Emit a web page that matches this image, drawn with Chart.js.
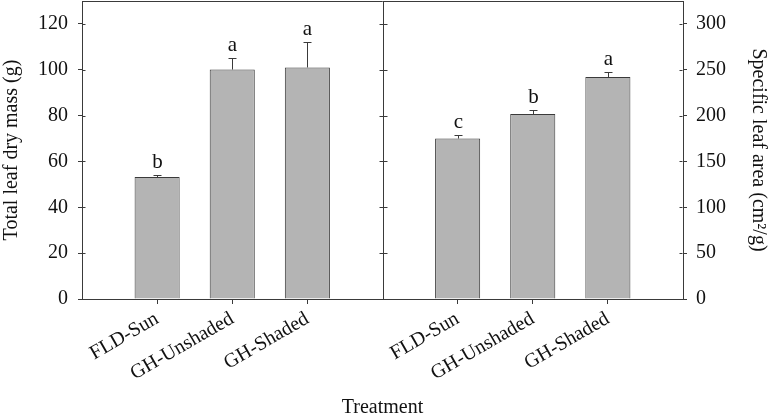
<!DOCTYPE html>
<html lang="en">
<head>
    <meta charset="UTF-8">
    <title>Leaf dry mass and specific leaf area</title>
    <script src="https://cdn.jsdelivr.net/npm/chart.js"></script>
    <style>
        html, body { margin: 0; padding: 0; background: #fff; }
        #wrap { width: 770px; height: 416px; }
    </style>
</head>
<body>
    <div id="wrap"><canvas id="leafChart"></canvas></div>

    <script>
        const categories = ['FLD-Sun', 'GH-Unshaded', 'GH-Shaded'];

        // left panel: total leaf dry mass (g)
        const massMean = [53.2, 100.1, 101.0];
        const massErr = [1.1, 5.1, 11.0];
        const massLetters = ['b', 'a', 'a'];
        const massTicks = [0, 20, 40, 60, 80, 100, 120];

        // right panel: specific leaf area (cm2/g)
        const slaMean = [175, 201.7, 242];
        const slaErr = [4.3, 4.8, 5.8];
        const slaLetters = ['c', 'b', 'a'];
        const slaTicks = [0, 50, 100, 150, 200, 250, 300];

        const lineColor = '#3a3a3a';
        const barFill = '#b4b4b4';

        Chart.defaults.font.family = '"Liberation Serif", "Times New Roman", serif';
        Chart.defaults.font.size = 20;
        Chart.defaults.color = '#111';

        // panel 1 sits at x = 1..3, panel 2 at x = 5..7, divider at 4
        const massData = categories.map((c, i) => ({ x: i + 1, y: massMean[i] }));
        const slaData = categories.map((c, i) => ({ x: i + 5, y: slaMean[i] }));

        const overlay = {
            id: 'overlay',
            afterDatasetsDraw(chart) {
                const { ctx, chartArea: a, scales } = chart;
                ctx.save();
                ctx.strokeStyle = lineColor;
                ctx.lineWidth = 1;

                // top of frame, middle divider, and inner halves of the y ticks
                const top = Math.round(a.top) + 0.5;
                const xl = Math.round(a.left) + 0.5;
                const xr = Math.round(a.right) - 0.5;
                const xd = Math.round(scales.x.getPixelForValue(4)) + 0.5;
                ctx.beginPath();
                ctx.moveTo(a.left, top);
                ctx.lineTo(a.right, top);
                ctx.moveTo(xd, a.top);
                ctx.lineTo(xd, a.bottom);
                massTicks.forEach(v => {
                    const y = Math.round(scales.y.getPixelForValue(v)) + 0.5;
                    ctx.moveTo(xd - 4, y);
                    ctx.lineTo(xd + 4, y);
                    ctx.moveTo(xl, y);
                    ctx.lineTo(xl + 3, y);
                });
                slaTicks.forEach(v => {
                    const y = Math.round(scales.y2.getPixelForValue(v)) + 0.5;
                    ctx.moveTo(xr - 3, y);
                    ctx.lineTo(xr, y);
                });
                ctx.stroke();

                // error bars + letters
                const panels = [
                    { mean: massMean, err: massErr, letters: massLetters, axis: scales.y, off: 1 },
                    { mean: slaMean, err: slaErr, letters: slaLetters, axis: scales.y2, off: 5 }
                ];
                ctx.fillStyle = '#111';
                ctx.font = '21px "Liberation Serif", "Times New Roman", serif';
                ctx.textAlign = 'center';
                ctx.textBaseline = 'bottom';
                panels.forEach(p => {
                    p.mean.forEach((m, i) => {
                        const x = Math.round(scales.x.getPixelForValue(i + p.off)) + 0.5;
                        const y0 = p.axis.getPixelForValue(m);
                        const y1 = Math.round(p.axis.getPixelForValue(m + p.err[i])) + 0.5;
                        ctx.beginPath();
                        ctx.moveTo(x, y0);
                        ctx.lineTo(x, y1);
                        ctx.moveTo(x - 4, y1);
                        ctx.lineTo(x + 4, y1);
                        ctx.stroke();
                        ctx.fillText(p.letters[i], x, y1 - 3);
                    });
                });
                ctx.restore();
            }
        };

        const noPad = s => { s.paddingTop = 0; s.paddingBottom = 0; s.paddingLeft = 0; s.paddingRight = 0; };

        new Chart(document.getElementById('leafChart'), {
            type: 'bar',
            data: {
                datasets: [
                    {
                        data: massData,
                        yAxisID: 'y',
                        backgroundColor: barFill,
                        borderColor: lineColor,
                        borderWidth: 1
                    },
                    {
                        data: slaData,
                        yAxisID: 'y2',
                        backgroundColor: barFill,
                        borderColor: lineColor,
                        borderWidth: 1
                    }
                ]
            },
            options: {
                responsive: true,
                maintainAspectRatio: false,
                animation: false,
                grouped: false,
                barPercentage: 0.6,
                categoryPercentage: 1,
                layout: { padding: { top: 1, left: 0, right: 0, bottom: 0 } },
                plugins: {
                    legend: { display: false },
                    tooltip: { enabled: false }
                },
                scales: {
                    x: {
                        type: 'linear',
                        min: 0,
                        max: 8,
                        offset: false,
                        grid: { offset: false, drawOnChartArea: false, drawTicks: true, tickLength: 5, color: lineColor },
                        border: { color: lineColor },
                        afterBuildTicks: s => { s.ticks = [1, 2, 3, 5, 6, 7].map(v => ({ value: v })); },
                        afterFit: s => { s.height = 117; noPad(s); },
                        ticks: {
                            autoSkip: false,
                            minRotation: 30,
                            maxRotation: 30,
                            padding: 3,
                            callback: v => categories[v < 4 ? v - 1 : v - 5]
                        },
                        title: { display: true, text: 'Treatment', padding: { top: 0, bottom: -4 } }
                    },
                    y: {
                        position: 'left',
                        min: 0,
                        max: 130,
                        grid: { drawOnChartArea: false, tickLength: 4, color: lineColor },
                        border: { color: lineColor },
                        afterBuildTicks: s => { s.ticks = massTicks.map(v => ({ value: v })); },
                        afterFit: s => { s.width = 82; noPad(s); },
                        ticks: { padding: 10 },
                        title: { display: true, text: 'Total leaf dry mass (g)', padding: { top: 0, bottom: 4 } }
                    },
                    y2: {
                        position: 'right',
                        min: 0,
                        max: 325,
                        grid: { drawOnChartArea: false, tickLength: 4, color: lineColor },
                        border: { color: lineColor },
                        afterBuildTicks: s => { s.ticks = slaTicks.map(v => ({ value: v })); },
                        afterFit: s => { s.width = 87; noPad(s); },
                        ticks: { padding: 9 },
                        title: { display: true, text: 'Specific leaf area (cm²/g)', padding: { top: 0, bottom: 4 } }
                    }
                }
            },
            plugins: [overlay]
        });
    </script>
</body>
</html>
